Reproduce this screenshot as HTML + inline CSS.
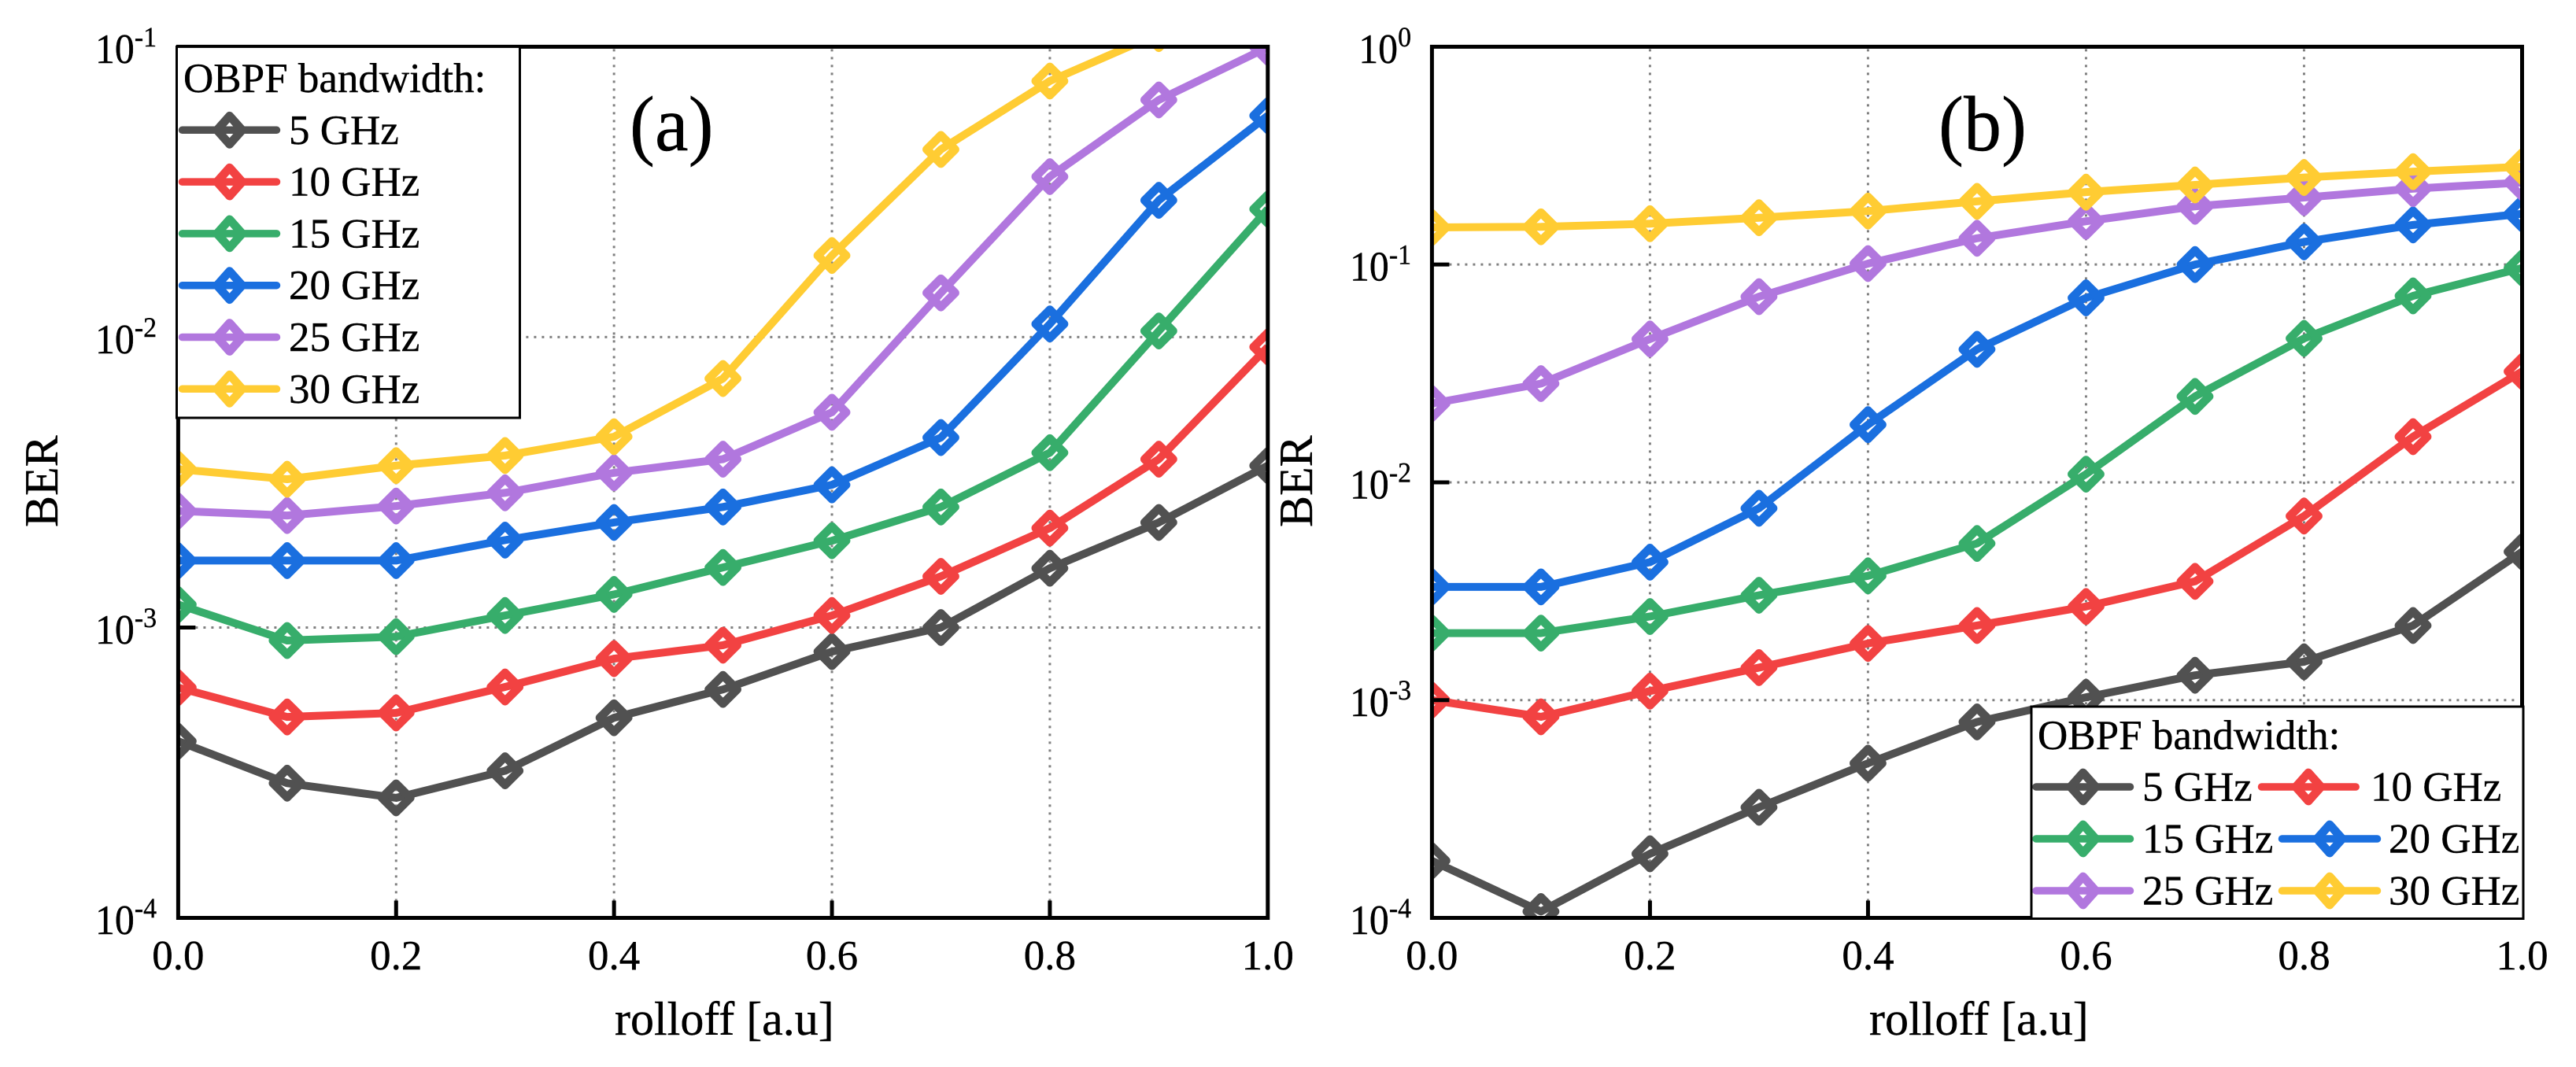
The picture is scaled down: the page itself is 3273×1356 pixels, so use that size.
<!DOCTYPE html>
<html lang="en">
<head>
<meta charset="utf-8">
<title>BER versus rolloff for OBPF bandwidths</title>
<style>
html,body{margin:0;padding:0;background:#fff;}
svg{display:block;font-family:"Liberation Serif",serif;fill:#000;}
text{stroke:#000;stroke-width:.4px;}
</style>
</head>
<body>
<svg id="figure" xmlns="http://www.w3.org/2000/svg" width="3273" height="1356" viewBox="0 0 3273 1356">
  <rect x="0" y="0" width="3273" height="1356" fill="#fff"/>
  <defs>
    <clipPath id="clip-a"><rect x="226.4" y="59.4" width="1384.4" height="1107.1"/></clipPath>
    <clipPath id="clip-b"><rect x="1819.4" y="59.4" width="1385.1" height="1107.1"/></clipPath>
  </defs>
  <g id="panel-a"></g>
  <g id="panel-b"></g>

  <text transform="translate(800,191) scale(.96,1)" font-size="100">(a)</text>
  <text transform="translate(2463,191) scale(.96,1)" font-size="100">(b)</text>
  <text x="781" y="1315" font-size="60">rolloff [a.u]</text>
  <text x="2375" y="1315" font-size="60">rolloff [a.u]</text>
  <text transform="translate(73,670) rotate(-90)" font-size="60">BER</text>
  <text transform="translate(1667,670) rotate(-90)" font-size="60">BER</text>

  <g id="legend-a">
    <rect x="224.5" y="59.4" width="436" height="471.6" fill="#fff" stroke="#000" stroke-width="3"/>
    <text x="233" y="117" font-size="53">OBPF bandwidth:</text>
  </g>
  <g id="legend-b">
    <rect x="2581" y="898" width="625" height="269.5" fill="#fff" stroke="#000" stroke-width="3"/>
    <text x="2589" y="952" font-size="53">OBPF bandwidth:</text>
  </g>
</svg>
<script>
// ---------- chart data ----------
const rolloff = [0, 0.1, 0.2, 0.3, 0.4, 0.5, 0.6, 0.7, 0.8, 0.9, 1.0];
const seriesNames = ['5 GHz', '10 GHz', '15 GHz', '20 GHz', '25 GHz', '30 GHz'];
const seriesColors = ['#515151', '#F24242', '#37AD6B', '#1A6FDF', '#B177DE', '#FFCC33'];

const xTickLabels = ['0.0', '0.2', '0.4', '0.6', '0.8', '1.0'];
const xTickValues = [0, 0.2, 0.4, 0.6, 0.8, 1.0];
const yExponentsA = [-1, -2, -3, -4];
const yExponentsB = [0, -1, -2, -3, -4];

const berA5  = [4.06e-4, 2.91e-4, 2.59e-4, 3.21e-4, 4.89e-4, 6.12e-4, 8.26e-4, 1.00e-3, 1.60e-3, 2.30e-3, 3.61e-3];
const berA10 = [6.21e-4, 4.92e-4, 5.08e-4, 6.24e-4, 7.81e-4, 8.69e-4, 1.10e-3, 1.50e-3, 2.20e-3, 3.80e-3, 9.25e-3];
const berA15 = [1.20e-3, 9.02e-4, 9.30e-4, 1.10e-3, 1.30e-3, 1.61e-3, 1.99e-3, 2.60e-3, 4.00e-3, 1.05e-2, 2.76e-2];
const berA20 = [1.70e-3, 1.70e-3, 1.70e-3, 2.00e-3, 2.30e-3, 2.60e-3, 3.10e-3, 4.51e-3, 1.11e-2, 2.96e-2, 5.79e-2];
const berA25 = [2.52e-3, 2.43e-3, 2.62e-3, 2.91e-3, 3.41e-3, 3.80e-3, 5.51e-3, 1.42e-2, 3.57e-2, 6.56e-2, 9.96e-2];
const berA30 = [3.51e-3, 3.24e-3, 3.61e-3, 3.91e-3, 4.54e-3, 7.20e-3, 1.91e-2, 4.43e-2, 7.62e-2, 1.11e-1, 1.40e-1];

const berB5  = [1.83e-4, 1.07e-4, 1.97e-4, 3.22e-4, 5.13e-4, 7.94e-4, 1.03e-3, 1.30e-3, 1.50e-3, 2.20e-3, 4.80e-3];
const berB10 = [1.00e-3, 8.38e-4, 1.10e-3, 1.41e-3, 1.82e-3, 2.20e-3, 2.69e-3, 3.51e-3, 7.00e-3, 1.62e-2, 3.23e-2];
const berB15 = [2.03e-3, 2.03e-3, 2.42e-3, 3.03e-3, 3.72e-3, 5.24e-3, 1.09e-2, 2.48e-2, 4.58e-2, 7.18e-2, 9.64e-2];
const berB20 = [3.31e-3, 3.31e-3, 4.30e-3, 7.60e-3, 1.84e-2, 4.08e-2, 7.03e-2, 1.00e-1, 1.27e-1, 1.52e-1, 1.71e-1];
const berB25 = [2.30e-2, 2.84e-2, 4.55e-2, 7.12e-2, 1.01e-1, 1.32e-1, 1.58e-1, 1.85e-1, 2.03e-1, 2.23e-1, 2.38e-1];
const berB30 = [1.48e-1, 1.49e-1, 1.54e-1, 1.64e-1, 1.76e-1, 1.95e-1, 2.15e-1, 2.32e-1, 2.51e-1, 2.67e-1, 2.81e-1];

const seriesA = [berA5, berA10, berA15, berA20, berA25, berA30];
const seriesB = [berB5, berB10, berB15, berB20, berB25, berB30];

// ---------- drawing ----------
const NS = 'http://www.w3.org/2000/svg';
function mk(tag, attrs, parent) {
  const el = document.createElementNS(NS, tag);
  for (const k in attrs) el.setAttribute(k, attrs[k]);
  parent.appendChild(el);
  return el;
}
function diamondPoints(cx, cy, dx, dy) {
  return (cx) + ',' + (cy - dy) + ' ' + (cx + dx) + ',' + cy + ' ' + (cx) + ',' + (cy + dy) + ' ' + (cx - dx) + ',' + cy;
}

function drawPanel(id, clipId, box, yMaxExp, yMinExp, yExps, series, yLabelRight) {
  const root = document.getElementById(id);
  const x = v => box.left + (v - 0) / (1 - 0) * (box.right - box.left);
  const y = v => box.top + (yMaxExp - Math.log10(v)) / (yMaxExp - yMinExp) * (box.bottom - box.top);

  // grid
  const grid = mk('g', {stroke: '#808080', 'stroke-width': 3, 'stroke-dasharray': '3 7', fill: 'none'}, root);
  
  
  xTickValues.slice(1, -1).forEach(v => {
    const l = mk('line', {x1: x(v), x2: x(v), y1: box.top + 3, y2: box.bottom - 20}, grid);
    
    
  });
  yExps.slice(1, -1).forEach(e => {
    const yy = y(Math.pow(10, e));
    const l = mk('line', {x1: box.left + 22, x2: box.right - 4, y1: yy, y2: yy}, grid);
    
    
  });

  // series
  const plot = mk('g', {'clip-path': 'url(#' + clipId + ')'}, root);
  
  
  series.forEach((vals, i) => {
    const g = mk('g', {stroke: seriesColors[i], fill: 'none', 'stroke-linejoin': 'round'}, plot);
    
    
    const pts = vals.map((v, j) => x(rolloff[j]) + ',' + y(v)).join(' ');
    const line = mk('polyline', {points: pts, 'stroke-width': 10}, g);
    
    
    vals.forEach((v, j) => {
      const m = mk('polygon', {points: diamondPoints(x(rolloff[j]), y(v), 18, 18), 'stroke-width': 10.8}, g);
      
      
    });
  });

  // frame
  const frame = mk('rect', {x: box.left, y: box.top, width: box.right - box.left, height: box.bottom - box.top, fill: 'none', stroke: '#000', 'stroke-width': 5}, root);
  
  

  // x ticks
  xTickValues.forEach((v, i) => {
    if (i > 0 && i < xTickValues.length - 1) {
      const t = mk('line', {x1: x(v), x2: x(v), y1: box.bottom, y2: box.bottom - 22, stroke: '#000', 'stroke-width': 5}, root);
      
      
    }
    const label = mk('text', {x: x(v), y: 1232, 'font-size': 53, 'text-anchor': 'middle'}, root);
    
    
    label.textContent = xTickLabels[i];
  });

  // y ticks
  yExps.forEach((e, i) => {
    const yy = y(Math.pow(10, e));
    if (i > 0 && i < yExps.length - 1) {
      const t = mk('line', {x1: box.left, x2: box.left + 22, y1: yy, y2: yy, stroke: '#000', 'stroke-width': 5}, root);
      
      
    }
    const label = mk('text', {transform: 'translate(' + yLabelRight + ',' + (yy + 20.5) + ') scale(.94,1)', 'text-anchor': 'end', 'font-size': 53}, root);
    
    
    const base = mk('tspan', {}, label);
    base.textContent = '10';
    const sup = mk('tspan', {dy: -21, 'font-size': 36}, label);
    sup.textContent = String(e);
  });
}

function drawLegendEntry(parentId, i, lineX1, lineX2, markerX, textX, rowY) {
  const parent = document.getElementById(parentId);
  const g = mk('g', {}, parent);
  
  
  const l = mk('line', {x1: lineX1 + 4.5, x2: lineX2 - 4.5, y1: rowY, y2: rowY, stroke: seriesColors[i], 'stroke-width': 9.5, 'stroke-linecap': 'round'}, g);
  
  
  const m = mk('polygon', {points: diamondPoints(markerX, rowY, 16, 18), fill: 'none', stroke: seriesColors[i], 'stroke-width': 10.8, 'stroke-linejoin': 'round'}, g);
  
  
  const t = mk('text', {x: textX, y: rowY + 17.5, 'font-size': 53}, g);
  
  
  t.textContent = seriesNames[i];
}

drawPanel('panel-a', 'clip-a', {left: 226.4, right: 1610.8, top: 59.4, bottom: 1166.5}, -1, -4, yExponentsA, seriesA, 199);
drawPanel('panel-b', 'clip-b', {left: 1819.4, right: 3204.5, top: 59.4, bottom: 1166.5}, 0, -4, yExponentsB, seriesB, 1793);

// legend (a): single column
seriesNames.forEach((n, i) => {
  drawLegendEntry('legend-a', i, 227, 356, 291.7, 367, 165.3 + i * 65.8);
});
// legend (b): two columns
drawLegendEntry('legend-b', 0, 2582.5, 2711, 2646.7, 2722, 1000);
drawLegendEntry('legend-b', 1, 2869, 2997.7, 2933, 3012, 1000);
drawLegendEntry('legend-b', 2, 2582.5, 2711, 2646.7, 2722, 1066);
drawLegendEntry('legend-b', 3, 2895, 3025, 2960, 3035, 1066);
drawLegendEntry('legend-b', 4, 2582.5, 2711, 2646.7, 2722, 1132);
drawLegendEntry('legend-b', 5, 2895, 3025, 2960, 3035, 1132);
</script>
</body>
</html>
